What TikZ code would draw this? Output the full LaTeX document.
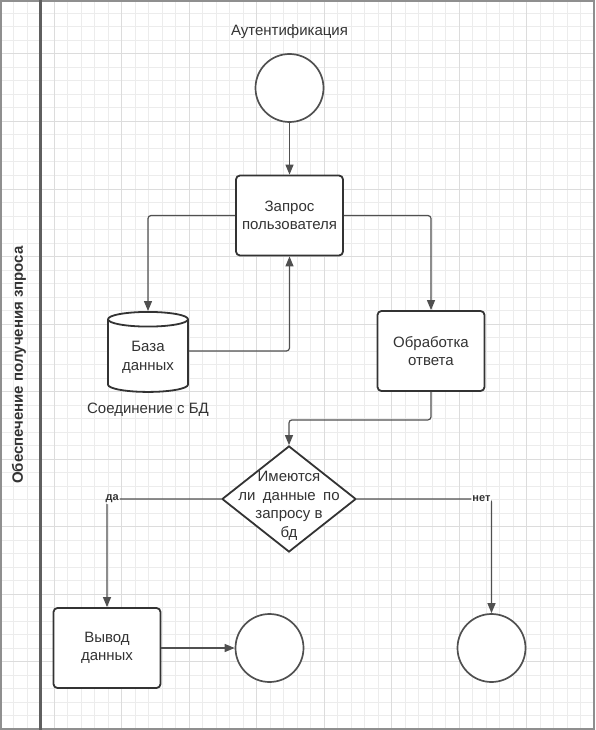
\documentclass[tikz,border=0pt]{standalone}
\usepackage{fontspec}
\setmainfont{Liberation Sans}
\usetikzlibrary{shapes.geometric, arrows.meta, positioning, calc}
\definecolor{gridminor}{RGB}{236,236,236}
\definecolor{gridmajor}{RGB}{220,220,220}
\definecolor{boxline}{RGB}{51,51,51}
\definecolor{wireline}{RGB}{80,80,80}
\definecolor{lanegray}{RGB}{95,95,95}
\tikzset{
  block/.style={rectangle, draw=boxline, fill=white, text=boxline,
    minimum width=107pt, minimum height=80pt, align=center,
    font=\fontsize{15}{18.5}\selectfont, rounded corners=4pt, line width=1.8pt},
  event/.style={circle, draw=wireline, fill=white, minimum size=68pt,
    inner sep=0pt, line width=1.7pt},
  store/.style={cylinder, shape border rotate=90, aspect=0.25, draw=boxline,
    fill=white, text=boxline, minimum width=80pt, minimum height=80pt,
    align=center, font=\fontsize{15}{18.5}\selectfont, line width=1.8pt},
  decision/.style={diamond, draw=boxline, fill=white, minimum width=134pt,
    minimum height=106pt, inner sep=0pt, line width=1.8pt},
  caption/.style={text=boxline, align=center, font=\fontsize{15}{18.5}\selectfont},
  arrow/.style={-{Triangle[length=10pt,width=8pt]}, line width=1.2pt,
    draw=wireline, rounded corners=3pt},
  branch/.style={font=\bfseries\fontsize{11}{13}\selectfont, fill=white,
    inner sep=1pt, text=boxline}
}

\begin{document}
\begin{tikzpicture}[x=1pt, y=-1pt]
  \useasboundingbox (0,0) rectangle (595,730);

  % Grid
  \foreach \k in {0,...,44} {\draw[gridminor, line width=1pt] (\k*13.5,0) -- (\k*13.5,730);}
  \foreach \k in {0,...,54} {\draw[gridminor, line width=1pt] (0,\k*13.5) -- (595,\k*13.5);}
  \foreach \k in {0,...,8} {\draw[gridmajor, line width=1pt] (54+\k*67.5,0) -- (54+\k*67.5,730);}
  \foreach \k in {0,...,9} {\draw[gridmajor, line width=1pt] (0,54+\k*67.5) -- (595,54+\k*67.5);}

  % Lane
  \draw[lanegray!70, line width=1.5pt] (0.8,0.8) rectangle (594.2,729.2);
  \draw[lanegray, line width=2.5pt] (40.5,0) -- (40.5,730);
  \node[rotate=90, text=boxline, font=\bfseries\fontsize{15}{18}\selectfont] (lane) at (19,365) {Обеспечение получения зпроса};

  % Nodes
  \node[caption] (authlbl) at (289.5,32) {Аутентификация};
  \node[event] (start) at (289.5,88) {};
  \node[block] (request) at (289.5,215.5) {Запрос\\пользователя};
  \node[store] (db) at (148,357.5) {База\\данных};
  \node[caption] (dblbl) at (148,410) {Соединение с БД};
  \node[block] (reply) at (431,351) {Обработка\\ответа};
  \node[decision] (check) at (289,499) {};
  \node[caption] (checktxt) at (289,506) {Имеются\\ли\enspace данные\enspace по\\запросу в\\бд};
  \node[block] (output) at (107,648) {Вывод\\данных};
  \node[event] (endok) at (269.5,648) {};
  \node[event] (endno) at (491.5,648) {};

  % Connections
  \draw[arrow] (start) -- (request);
  \draw[arrow] (request.west) -| (db.north);
  \draw[arrow] (request.east) -| (reply.north);
  \draw[arrow] ([yshift=6.5pt]db.east) -| (request.south);
  \draw[arrow] (reply.south) -- ++(0,28) -| (check.north);
  \draw[arrow] (check.west) -| node[branch, pos=0.5, anchor=west, xshift=-3pt] {да} (output.north);
  \draw[arrow] (check.east) -| node[branch, pos=0.5, anchor=east, xshift=0.5pt] {нет} (endno.north);
  \draw[arrow] (output.east) -- (endok.west);
\end{tikzpicture}
\end{document}
